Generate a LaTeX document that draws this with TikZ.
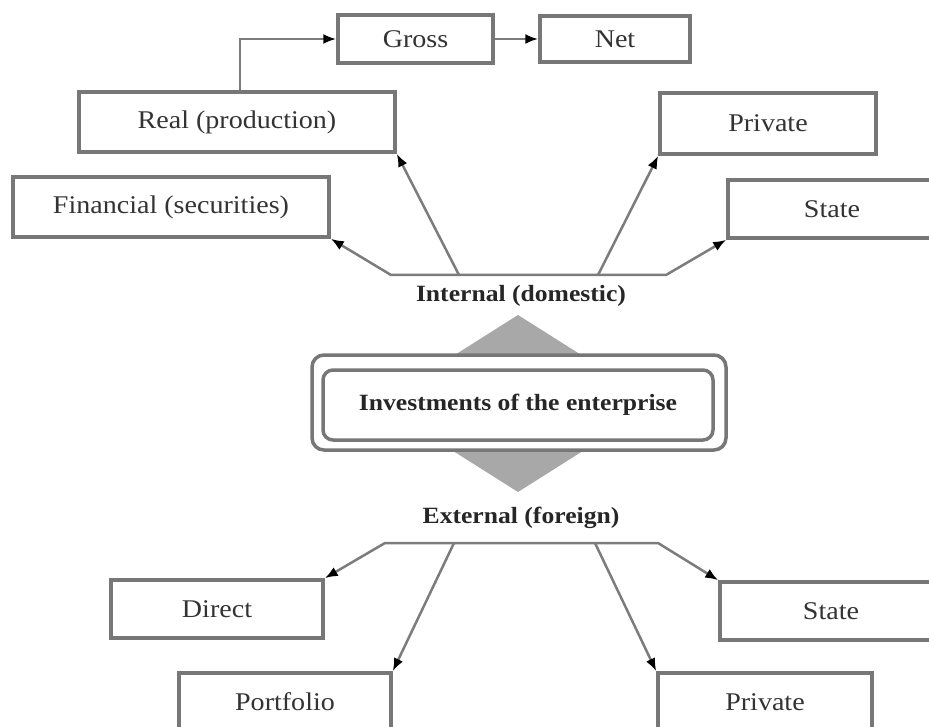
\documentclass[tikz,border=0pt]{standalone}
\usepackage{fontspec}
\setmainfont{Liberation Serif}[FakeStretch=1.1]
\usetikzlibrary{arrows.meta}

\definecolor{edge}{HTML}{777777}
\definecolor{wire}{HTML}{7C7C7C}
\definecolor{rhomb}{HTML}{A8A8A8}

\tikzset{
  box/.style={draw=edge, line width=3.5pt, fill=white, inner sep=0pt,
    font=\fontsize{25.5}{28}\selectfont, text=black!80},
  heading/.style={font=\bfseries\fontsize{23.3}{26}\selectfont, text=black!85, inner sep=0pt},
  conn/.style={draw=wire, line width=2.5pt},
  tip/.style={-{Latex[length=13pt,width=10pt,color=black]}},
  tips/.style={{Latex[length=13pt,width=10pt,color=black]}-{Latex[length=13pt,width=10pt,color=black]}}
}

\begin{document}
\begin{tikzpicture}[x=1pt, y=-1pt]
\useasboundingbox (0,0) rectangle (929,727);
\clip (0,0) rectangle (929,727);

% upper branch: gross and net
\node[box, minimum width=155pt, minimum height=48pt] (gross) at (415.5,39) {Gross};
\node[box, minimum width=150pt, minimum height=46pt] (net) at (615,39) {Net};

% upper branch: internal investment types
\node[box, minimum width=316pt, minimum height=60pt] (real) at (237,122) {Real (production)};
\node[box, minimum width=316pt, minimum height=60pt] (fin) at (171,207) {Financial (securities)};
\node[box, minimum width=216pt, minimum height=61pt] (privtop) at (768,123.5) {Private};
\node[box, minimum width=208pt, minimum height=58pt] (statetop) at (832,209) {State};

% lower branch: external investment types
\node[box, minimum width=212pt, minimum height=58pt] (direct) at (217,609) {Direct};
\node[box, minimum width=212pt, minimum height=58pt] (portfolio) at (285,702) {Portfolio};
\node[box, minimum width=214pt, minimum height=58pt] (privbot) at (765,702) {Private};
\node[box, minimum width=222pt, minimum height=58pt] (statebot) at (831,611) {State};

% central element: grey rhombus behind a double rounded frame
\fill[rhomb] (518,315) -- (658,403.5) -- (518,492) -- (378,403.5) -- cycle;
\node[draw=edge, line width=3.5pt, fill=white, rounded corners=12pt,
      minimum width=414pt, minimum height=95pt] (frame) at (519,402.5) {};
\node[draw=edge, line width=3.5pt, rounded corners=10pt,
      minimum width=390pt, minimum height=70pt, heading] (core) at (518,405)
      {Investments of the enterprise};

% group labels
\node[heading] (internal) at (521,296) {Internal (domestic)};
\node[heading] (external) at (521,518) {External (foreign)};

% internal distribution bar
\coordinate (ia) at (391,275);
\coordinate (ib) at (459,275);
\coordinate (ic) at (598,275);
\coordinate (id) at (666,275);
\draw[conn, tips] (fin.south east) -- (ia) -- (id) -- (statetop.south west);
\draw[conn, tip] (ib) -- (real.south east);
\draw[conn, tip] (ic) -- (privtop.south west);

% external distribution bar
\coordinate (ea) at (385,543);
\coordinate (eb) at (454,543);
\coordinate (ec) at (595,543);
\coordinate (ed) at (658,543);
\draw[conn, tips] (direct.north east) -- (ea) -- (ed) -- (statebot.north west);
\draw[conn, tip] (eb) -- (portfolio.north east);
\draw[conn, tip] (ec) -- (privbot.north west);

% real investment split into gross and net
\draw[conn, tip] (real.north -| 240,0) |- (gross.west);
\draw[conn, tip] (gross.east) -- (net.west);
\end{tikzpicture}
\end{document}
